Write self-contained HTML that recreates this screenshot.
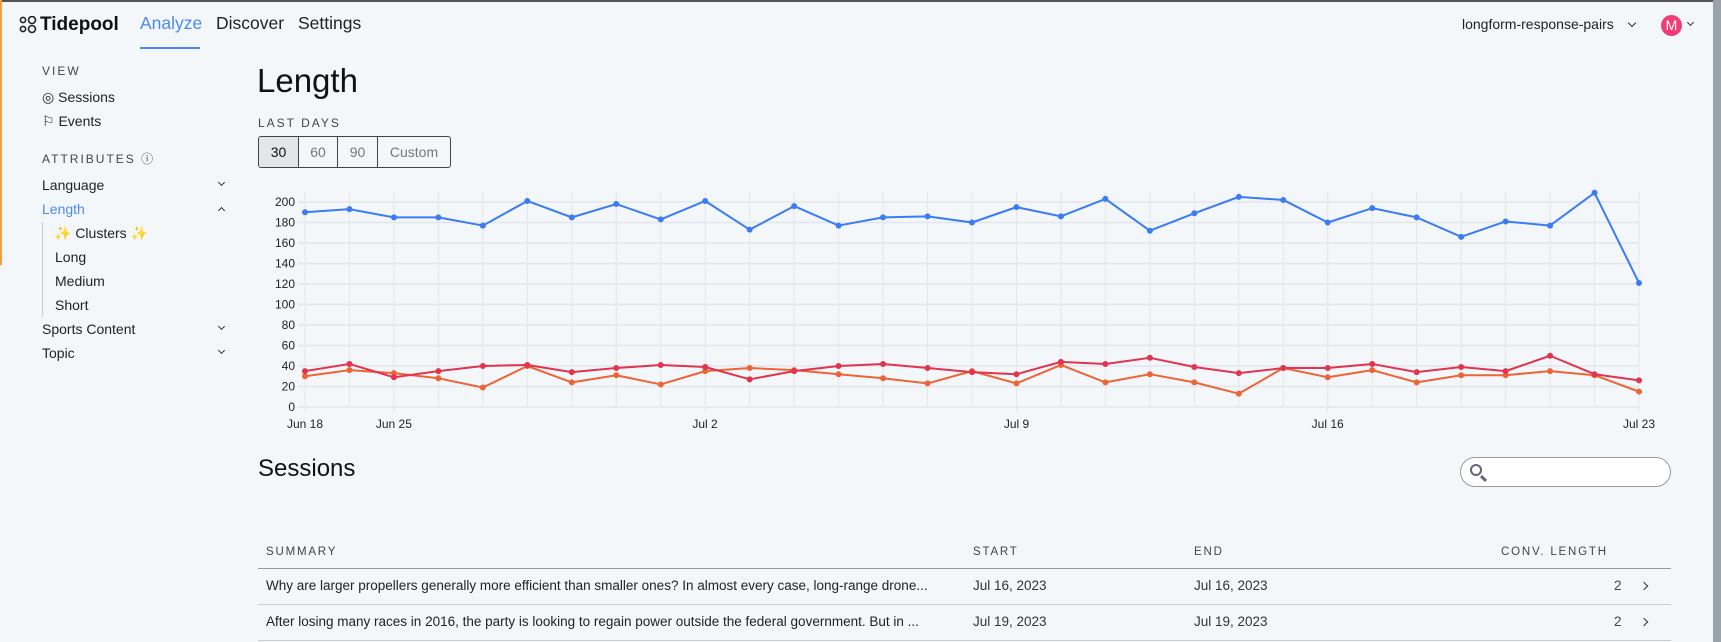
<!DOCTYPE html>
<html><head><meta charset="utf-8"><style>
*{margin:0;padding:0;box-sizing:border-box}
body{width:1721px;height:642px;overflow:hidden;background:#f3f7fa;font-family:"Liberation Sans",Arial,sans-serif;color:#1d2024;position:relative}
.a{position:absolute;white-space:nowrap}
.cap{font-size:12px;letter-spacing:2px;color:#444}
.sb{font-size:14px;color:#222}
.chev{position:absolute;width:6px;height:6px;border-right:1.5px solid #333;border-bottom:1.5px solid #333}
.th{font-size:11.5px;letter-spacing:1.8px;color:#444}
.td{font-size:13.5px;color:#222}
</style></head><body>
<div class="a" style="left:0;top:0;width:1721px;height:2px;background:#555"></div>
<div class="a" style="left:0;top:0;width:2px;height:265px;background:#f0a040"></div>
<div class="a" style="left:1713px;top:0;width:8px;height:642px;background:#9aa3aa"></div>
<svg class="a" style="left:19px;top:16px" width="18" height="18" fill="none" stroke="#222" stroke-width="1.6">
<circle cx="4" cy="4" r="2.6"/><circle cx="13" cy="4" r="3.5"/><circle cx="4" cy="13" r="2.6"/><circle cx="13" cy="13" r="3.5"/></svg>
<div class="a" style="left:40px;top:14px;font-size:19px;font-weight:bold;color:#111">Tidepool</div>
<div class="a" style="left:140px;top:13px;font-size:17.5px;color:#4a8af0">Analyze</div>
<div class="a" style="left:140px;top:47px;width:60px;height:2px;background:#4a8af0"></div>
<div class="a" style="left:216px;top:13px;font-size:17.5px">Discover</div>
<div class="a" style="left:298px;top:13px;font-size:17.5px">Settings</div>
<div class="a" style="left:1462px;top:16px;font-size:14px">longform-response-pairs</div>
<div class="chev" style="left:1629px;top:20px;transform:rotate(45deg)"></div>
<div class="a" style="left:1661px;top:15px;width:21px;height:21px;border-radius:50%;background:#ee3d77;color:#fff;font-size:14px;text-align:center;line-height:21px">M</div>
<div class="chev" style="left:1688px;top:20px;transform:rotate(45deg);width:5px;height:5px"></div>

<div class="a cap" style="left:42px;top:64px">VIEW</div>
<div class="a sb" style="left:42px;top:89px">◎ Sessions</div>
<div class="a sb" style="left:42px;top:113px">⚐ Events</div>
<div class="a cap" style="left:42px;top:150px">ATTRIBUTES ⓘ</div>
<div class="a sb" style="left:42px;top:177px">Language</div>
<div class="a sb" style="left:42px;top:201px;color:#4a8af0">Length</div>
<div class="a" style="left:42px;top:222px;width:1px;height:95px;background:#ccc"></div>
<div class="a sb" style="left:54px;top:225px">✨ Clusters ✨</div>
<div class="a sb" style="left:55px;top:249px">Long</div>
<div class="a sb" style="left:55px;top:273px">Medium</div>
<div class="a sb" style="left:55px;top:297px">Short</div>
<div class="a sb" style="left:42px;top:321px">Sports Content</div>
<div class="a sb" style="left:42px;top:345px">Topic</div>
<div class="chev" style="left:219px;top:180px;transform:rotate(45deg);width:5px;height:5px"></div>
<div class="chev" style="left:219px;top:208px;transform:rotate(-135deg);width:5px;height:5px"></div>
<div class="chev" style="left:219px;top:324px;transform:rotate(45deg);width:5px;height:5px"></div>
<div class="chev" style="left:219px;top:348px;transform:rotate(45deg);width:5px;height:5px"></div>

<div class="a" style="left:257px;top:62px;font-size:33px;color:#111">Length</div>
<div class="a cap" style="left:258px;top:116px">LAST DAYS</div>
<div class="a" style="left:258px;top:136px;width:193px;height:32px;border:1px solid #444;border-radius:3px;display:flex;font-size:14px;color:#777;overflow:hidden">
<div style="width:40px;background:#e2e6e9;color:#111;text-align:center;line-height:30px;border-right:1px solid #444">30</div>
<div style="width:39px;text-align:center;line-height:30px;border-right:1px solid #444">60</div>
<div style="width:40px;text-align:center;line-height:30px;border-right:1px solid #444">90</div>
<div style="flex:1;text-align:center;line-height:30px">Custom</div></div>

<svg class="a" style="left:0;top:0" width="1721" height="642">
<g stroke="#e3e6ea" stroke-width="1.5">
<line x1="298" x2="1639" y1="407" y2="407"/><line x1="298" x2="1639" y1="386.5" y2="386.5"/><line x1="298" x2="1639" y1="366" y2="366"/><line x1="298" x2="1639" y1="345.5" y2="345.5"/><line x1="298" x2="1639" y1="325" y2="325"/><line x1="298" x2="1639" y1="304.5" y2="304.5"/><line x1="298" x2="1639" y1="284" y2="284"/><line x1="298" x2="1639" y1="263.5" y2="263.5"/><line x1="298" x2="1639" y1="243" y2="243"/><line x1="298" x2="1639" y1="222.5" y2="222.5"/><line x1="298" x2="1639" y1="202" y2="202"/>
</g>
<g stroke="#e3e6ea" stroke-width="1">
<line x1="305" x2="305" y1="192" y2="412"/><line x1="349.5" x2="349.5" y1="192" y2="407"/><line x1="393.9" x2="393.9" y1="192" y2="412"/><line x1="438.4" x2="438.4" y1="192" y2="407"/><line x1="482.9" x2="482.9" y1="192" y2="407"/><line x1="527.3" x2="527.3" y1="192" y2="407"/><line x1="571.8" x2="571.8" y1="192" y2="407"/><line x1="616.3" x2="616.3" y1="192" y2="407"/><line x1="660.7" x2="660.7" y1="192" y2="407"/><line x1="705.2" x2="705.2" y1="192" y2="412"/><line x1="749.7" x2="749.7" y1="192" y2="407"/><line x1="794.1" x2="794.1" y1="192" y2="407"/><line x1="838.6" x2="838.6" y1="192" y2="407"/><line x1="883.1" x2="883.1" y1="192" y2="407"/><line x1="927.5" x2="927.5" y1="192" y2="407"/><line x1="972" x2="972" y1="192" y2="407"/><line x1="1016.5" x2="1016.5" y1="192" y2="412"/><line x1="1060.9" x2="1060.9" y1="192" y2="407"/><line x1="1105.4" x2="1105.4" y1="192" y2="407"/><line x1="1149.9" x2="1149.9" y1="192" y2="407"/><line x1="1194.3" x2="1194.3" y1="192" y2="407"/><line x1="1238.8" x2="1238.8" y1="192" y2="407"/><line x1="1283.3" x2="1283.3" y1="192" y2="407"/><line x1="1327.7" x2="1327.7" y1="192" y2="412"/><line x1="1372.2" x2="1372.2" y1="192" y2="407"/><line x1="1416.7" x2="1416.7" y1="192" y2="407"/><line x1="1461.1" x2="1461.1" y1="192" y2="407"/><line x1="1505.6" x2="1505.6" y1="192" y2="407"/><line x1="1550.1" x2="1550.1" y1="192" y2="407"/><line x1="1594.5" x2="1594.5" y1="192" y2="407"/><line x1="1639" x2="1639" y1="192" y2="412"/>
</g>
<g font-size="12" fill="#222" text-anchor="end">
<text x="295" y="411">0</text><text x="295" y="390.5">20</text><text x="295" y="370">40</text><text x="295" y="349.5">60</text><text x="295" y="329">80</text><text x="295" y="308.5">100</text><text x="295" y="288">120</text><text x="295" y="267.5">140</text><text x="295" y="247">160</text><text x="295" y="226.5">180</text><text x="295" y="206">200</text>
</g>
<g font-size="12" fill="#222" text-anchor="middle">
<text x="305" y="428">Jun 18</text><text x="393.9" y="428">Jun 25</text><text x="705" y="428">Jul 2</text><text x="1016.5" y="428">Jul 9</text><text x="1327.7" y="428">Jul 16</text><text x="1639" y="428">Jul 23</text>
</g>
<g transform="translate(305,407) scale(44.467,-1.025)" fill="none" stroke-linejoin="round">
<polyline vector-effect="non-scaling-stroke" stroke="#ee6436" stroke-width="2" points="0,30 1,36 2,33 3,28 4,19 5,40 6,24 7,31 8,22 9,35 10,38 11,36 12,32 13,28 14,23 15,35 16,23 17,41 18,24 19,32 20,24 21,13 22,38 23,29 24,36 25,24 26,31 27,31 28,35 29,31 30,15"/>
<path vector-effect="non-scaling-stroke" stroke="#ee6436" stroke-width="6" stroke-linecap="round" d="M0,30h0M1,36h0M2,33h0M3,28h0M4,19h0M5,40h0M6,24h0M7,31h0M8,22h0M9,35h0M10,38h0M11,36h0M12,32h0M13,28h0M14,23h0M15,35h0M16,23h0M17,41h0M18,24h0M19,32h0M20,24h0M21,13h0M22,38h0M23,29h0M24,36h0M25,24h0M26,31h0M27,31h0M28,35h0M29,31h0M30,15h0"/>
<polyline vector-effect="non-scaling-stroke" stroke="#e0344f" stroke-width="2" points="0,35 1,42 2,29 3,35 4,40 5,41 6,34 7,38 8,41 9,39 10,27 11,35 12,40 13,42 14,38 15,34 16,32 17,44 18,42 19,48 20,39 21,33 22,38 23,38 24,42 25,34 26,39 27,35 28,50 29,32 30,26"/>
<path vector-effect="non-scaling-stroke" stroke="#e0344f" stroke-width="6" stroke-linecap="round" d="M0,35h0M1,42h0M2,29h0M3,35h0M4,40h0M5,41h0M6,34h0M7,38h0M8,41h0M9,39h0M10,27h0M11,35h0M12,40h0M13,42h0M14,38h0M15,34h0M16,32h0M17,44h0M18,42h0M19,48h0M20,39h0M21,33h0M22,38h0M23,38h0M24,42h0M25,34h0M26,39h0M27,35h0M28,50h0M29,32h0M30,26h0"/>
<polyline vector-effect="non-scaling-stroke" stroke="#3b7bf6" stroke-width="2" points="0,190 1,193 2,185 3,185 4,177 5,201 6,185 7,198 8,183 9,201 10,173 11,196 12,177 13,185 14,186 15,180 16,195 17,186 18,203 19,172 20,189 21,205 22,202 23,180 24,194 25,185 26,166 27,181 28,177 29,209 30,121"/>
<path vector-effect="non-scaling-stroke" stroke="#3b7bf6" stroke-width="6" stroke-linecap="round" d="M0,190h0M1,193h0M2,185h0M3,185h0M4,177h0M5,201h0M6,185h0M7,198h0M8,183h0M9,201h0M10,173h0M11,196h0M12,177h0M13,185h0M14,186h0M15,180h0M16,195h0M17,186h0M18,203h0M19,172h0M20,189h0M21,205h0M22,202h0M23,180h0M24,194h0M25,185h0M26,166h0M27,181h0M28,177h0M29,209h0M30,121h0"/>
</g>
</svg>

<div class="a" style="left:258px;top:455px;font-size:24px;color:#111">Sessions</div>
<div class="a" style="left:1460px;top:457px;width:211px;height:30px;border:1px solid #999;border-radius:15px;background:#fff"></div>
<div class="a" style="left:1470px;top:464px;width:12px;height:12px;border:2.5px solid #667;border-radius:50%"></div>
<div class="a" style="left:1480px;top:477px;width:7px;height:3px;background:#667;transform:rotate(45deg)"></div>

<div class="a th" style="left:266px;top:546px">SUMMARY</div>
<div class="a th" style="left:973px;top:546px">START</div>
<div class="a th" style="left:1194px;top:546px">END</div>
<div class="a th" style="left:1501px;top:546px">CONV. LENGTH</div>
<div class="a" style="left:258px;top:568px;width:1413px;height:1px;background:#999"></div>
<div class="a td" style="left:266px;top:578px">Why are larger propellers generally more efficient than smaller ones? In almost every case, long-range drone...</div>
<div class="a td" style="left:973px;top:578px;color:#333">Jul 16, 2023</div>
<div class="a td" style="left:1194px;top:578px;color:#333">Jul 16, 2023</div>
<div class="a td" style="left:1614px;top:578px;color:#444">2</div>
<div class="chev" style="left:1641px;top:583px;transform:rotate(-45deg);width:6px;height:6px"></div>
<div class="a" style="left:258px;top:604px;width:1413px;height:1px;background:#ccc"></div>
<div class="a td" style="left:266px;top:614px">After losing many races in 2016, the party is looking to regain power outside the federal government. But in ...</div>
<div class="a td" style="left:973px;top:614px;color:#333">Jul 19, 2023</div>
<div class="a td" style="left:1194px;top:614px;color:#333">Jul 19, 2023</div>
<div class="a td" style="left:1614px;top:614px;color:#444">2</div>
<div class="chev" style="left:1641px;top:619px;transform:rotate(-45deg);width:6px;height:6px"></div>
<div class="a" style="left:258px;top:640px;width:1413px;height:1px;background:#ccc"></div>
</body></html>
